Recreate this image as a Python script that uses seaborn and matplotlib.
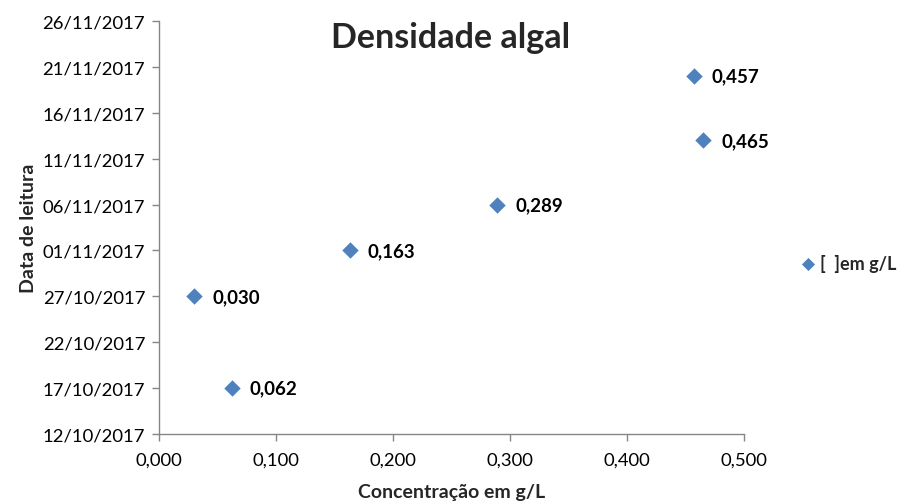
import matplotlib
matplotlib.use("Agg")
import matplotlib.pyplot as plt
import matplotlib.dates as mdates
import pandas as pd
import seaborn as sns

# Readings: concentration (g/L) and reading date
concentracao = [0.062, 0.030, 0.163, 0.289, 0.465, 0.457]
datas = ["2017-10-17", "2017-10-27", "2017-11-01", "2017-11-06", "2017-11-13", "2017-11-20"]
rotulos = ["0,062", "0,030", "0,163", "0,289", "0,465", "0,457"]

x_ticks = [0.0, 0.1, 0.2, 0.3, 0.4, 0.5]
x_tick_labels = ["0,000", "0,100", "0,200", "0,300", "0,400", "0,500"]

df = pd.DataFrame({"Concentração em g/L": concentracao,
                   "Data de leitura": pd.to_datetime(datas)})

sns.set_style("white")
plt.rcParams["font.family"] = ["Lato", "DejaVu Sans"]

cor = "#4F81BD"
cinza = "#868686"

fig = plt.figure(figsize=(9.04, 5.02), dpi=100)
ax = fig.add_axes([0.176, 0.1335, 0.647, 0.8225])

sns.scatterplot(data=df, x="Concentração em g/L", y="Data de leitura", ax=ax,
                marker="D", s=70, color=cor, edgecolor=cor, linewidth=0,
                label="[  ]em g/L", zorder=3)

for xv, dv, txt in zip(df["Concentração em g/L"], df["Data de leitura"], rotulos):
    ax.annotate(txt, (xv, mdates.date2num(dv)), xytext=(13, 0),
                textcoords="offset points", va="center", ha="left",
                fontsize=13.5, fontweight="bold", color="black")

# Axes ranges and ticks
ax.set_xlim(0, 0.5)
ax.set_xticks(x_ticks)
ax.set_xticklabels(x_tick_labels)
y0 = mdates.date2num(pd.Timestamp("2017-10-12"))
y1 = mdates.date2num(pd.Timestamp("2017-11-26"))
ax.set_ylim(y0, y1)
ax.set_yticks([y0 + 5 * i for i in range(10)])
ax.yaxis.set_major_formatter(mdates.DateFormatter("%d/%m/%Y"))

ax.tick_params(axis="both", which="major", labelsize=13.3, colors=cinza,
               labelcolor="black", length=5, width=1, direction="out",
               left=True, bottom=True)
ax.tick_params(axis="x", pad=8)
ax.tick_params(axis="y", pad=5)

for side in ["top", "right"]:
    ax.spines[side].set_visible(False)
for side in ["left", "bottom"]:
    ax.spines[side].set_color(cinza)
    ax.spines[side].set_linewidth(1)

ax.set_xlabel("Concentração em g/L", fontsize=14, fontweight="bold", labelpad=11)
ax.set_ylabel("Data de leitura", fontsize=14, fontweight="bold", labelpad=4)

fig.text(0.498, 0.925, "Densidade algal", ha="center", va="center",
         fontsize=24.5, fontweight="bold")

leg = ax.legend(loc="center left", bbox_to_anchor=(1.066, 0.415), frameon=False,
                handletextpad=-0.35, borderaxespad=0, markerscale=0.8,
                prop={"size": 13, "weight": "bold"})

fig.savefig("out.png", dpi=100)
